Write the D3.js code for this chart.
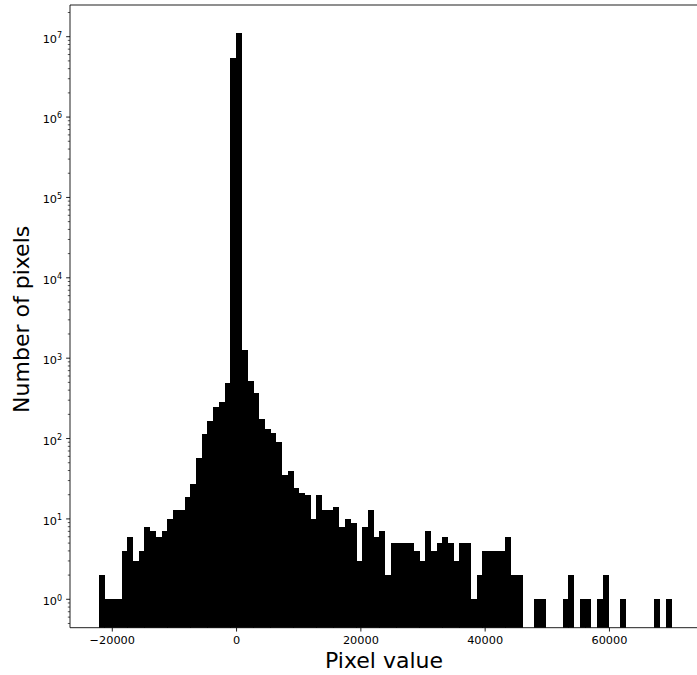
<!DOCTYPE html>
<html>
<head>
<meta charset="utf-8">
<script src="https://cdn.jsdelivr.net/npm/d3@7"></script>
<style>
  html, body { margin: 0; padding: 0; background: #fff; }
  svg { display: block; }
  text { font-family: "DejaVu Sans", sans-serif; fill: #000; }
</style>
</head>
<body>
<script>
// ---- data ----
const binMin = -22196;
const binMax = 69964;
const counts = [
  2, 1, 1, 1, 4, 6, 3, 4, 8, 7,
  6, 7, 10, 13, 13, 19, 27, 57, 115, 165,
  247, 285, 488, 5380000, 11000000, 1260, 520, 364, 173, 132,
  118, 90, 35, 40, 24, 21, 20, 10, 20, 13,
  13, 14, 8, 10, 9, 3, 8, 13, 6, 7,
  2, 5, 5, 5, 5, 4, 3, 7, 4, 5,
  6, 5, 3, 5, 5, 1, 2, 4, 4, 4,
  4, 6, 2, 2, 0, 0, 1, 1, 0, 0,
  0, 1, 2, 0, 1, 1, 0, 1, 2, 0,
  0, 1, 0, 0, 0, 0, 0, 1, 0, 1
];
const xTicks = [-20000, 0, 20000, 40000, 60000];
const yTicks = [1, 10, 100, 1000, 10000, 100000, 1000000, 10000000];
const xLabel = "Pixel value";
const yLabel = "Number of pixels";

// ---- layout ----
const W = 697, H = 675;
const L = 70, R = 700, T = 5, B = 627.7;
const svg = d3.select("body").append("svg").attr("width", W).attr("height", H);

const x = d3.scaleLinear().domain([-26804, 74572]).range([L, R]);
const y = d3.scaleLog().domain([0.443, 2.48e7]).range([B, T]);

const nb = counts.length;
const bw = (binMax - binMin) / nb;
const bins = counts.map((c, i) => ({ x0: binMin + i * bw, x1: binMin + (i + 1) * bw, c }));

svg.append("defs").append("clipPath").attr("id", "clip")
  .append("rect").attr("x", L).attr("y", T).attr("width", R - L).attr("height", B - T);

svg.append("g").attr("clip-path", "url(#clip)")
  .selectAll("rect").data(bins.filter(d => d.c > 0)).join("rect")
  .attr("x", d => x(d.x0))
  .attr("width", d => x(d.x1) - x(d.x0) + 0.3)
  .attr("y", d => y(d.c))
  .attr("height", d => B - y(d.c) + 2)
  .attr("fill", "#000")
  .attr("shape-rendering", "crispEdges");

const lw = 0.88;
// spines
const sp = svg.append("g").attr("stroke", "#000").attr("stroke-width", lw).attr("fill", "none");
sp.append("line").attr("x1", L).attr("x2", L).attr("y1", T).attr("y2", B);
sp.append("line").attr("x1", L).attr("x2", R).attr("y1", B).attr("y2", B);
sp.append("line").attr("x1", L).attr("x2", R).attr("y1", T).attr("y2", T);
sp.append("line").attr("x1", R).attr("x2", R).attr("y1", T).attr("y2", B);

// x axis ticks
const xt = svg.append("g");
xTicks.forEach(v => {
  const px = x(v);
  xt.append("line").attr("x1", px).attr("x2", px).attr("y1", B).attr("y2", B + 3.85)
    .attr("stroke", "#000").attr("stroke-width", lw);
  xt.append("text").attr("x", px).attr("y", B + 16.5).attr("text-anchor", "middle")
    .attr("font-size", 11.3).text(v < 0 ? "\u2212" + Math.abs(v) : String(v));
});

// y axis ticks (major + minor)
const yt = svg.append("g");
const [d0, d1] = y.domain();
for (let e = Math.floor(Math.log10(d0)); e <= Math.ceil(Math.log10(d1)); e++) {
  for (let m = 2; m <= 9; m++) {
    const v = m * Math.pow(10, e);
    if (v < d0 || v > d1) continue;
    yt.append("line").attr("x1", L - 2.2).attr("x2", L).attr("y1", y(v)).attr("y2", y(v))
      .attr("stroke", "#000").attr("stroke-width", 0.66);
  }
}
yTicks.forEach(v => {
  const py = y(v);
  yt.append("line").attr("x1", L - 3.85).attr("x2", L).attr("y1", py).attr("y2", py)
    .attr("stroke", "#000").attr("stroke-width", lw);
  const t = yt.append("text").attr("x", L - 7.9).attr("y", py + 6).attr("text-anchor", "end")
    .attr("font-size", 11.3);
  t.append("tspan").text("10");
  t.append("tspan").attr("dy", -4.6).attr("font-size", 8).text(String(Math.round(Math.log10(v))));
});

// axis labels
svg.append("text").attr("x", (L + R) / 2 - 1).attr("y", 668).attr("text-anchor", "middle")
  .attr("font-size", 22).text(xLabel);
svg.append("text").attr("transform", `translate(29,${(T + B) / 2 + 3}) rotate(-90)`)
  .attr("text-anchor", "middle").attr("font-size", 22).text(yLabel);
</script>
</body>
</html>
